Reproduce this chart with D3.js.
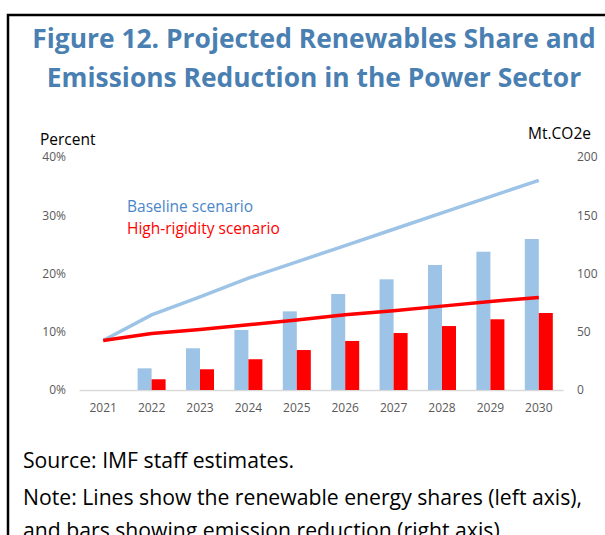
<!DOCTYPE html>
<html>
<head>
<meta charset="utf-8">
<script src="https://cdn.jsdelivr.net/npm/d3@7"></script>
<style>
    body { margin: 0; background: white; font-family: "Open Sans", "Noto Sans", sans-serif; }
    svg { display: block; }
</style>
</head>
<body>
<svg id="chart" width="605" height="535"></svg>
<script>
    // data
    const years = ["2021", "2022", "2023", "2024", "2025", "2026", "2027", "2028", "2029", "2030"];
    const baselineShare = [8.5, 12.9, 16.0, 19.2, 22.0, 24.8, 27.6, 30.4, 33.2, 36.0];
    const rigidShare = [8.5, 9.7, 10.4, 11.2, 12.0, 12.9, 13.6, 14.4, 15.2, 15.9];
    const baselineCut = [null, 18.6, 35.8, 51.5, 67.5, 82.4, 95.0, 107.3, 118.7, 129.6];
    const rigidCut = [null, 9.2, 17.8, 26.4, 34.3, 42.1, 48.9, 54.9, 60.7, 66.1];
    const leftTicks = [0, 10, 20, 30, 40];
    const rightTicks = [0, 50, 100, 150, 200];

    const blue = "#9dc3e6";
    const red = "#ff0000";
    const gray = "#595959";

    const svg = d3.select("#chart");

    // frame around the figure
    svg.append("path")
        .attr("d", "M8,540 L8,15 L610,15")
        .attr("fill", "none")
        .attr("stroke", "black")
        .attr("stroke-width", 2.5);

    // title
    const title = svg.append("text")
        .attr("text-anchor", "middle")
        .attr("fill", "#4a7fb2")
        .attr("font-weight", "bold")
        .attr("font-size", 26.4);
    title.append("tspan").attr("x", 314).attr("y", 48).text("Figure 12. Projected Renewables Share and");
    title.append("tspan").attr("x", 314).attr("y", 87).text("Emissions Reduction in the Power Sector");

    // scales
    const x = d3.scaleBand().domain(years).range([79, 563]);
    const yL = d3.scaleLinear().domain([0, 40]).range([390, 157]);
    const yR = d3.scaleLinear().domain([0, 200]).range([390, 157]);
    const inner = d3.scaleBand().domain(["base", "rigid"]).range([0, 28]);
    const off = (x.bandwidth() - 28) / 2;

    // axes
    svg.append("g")
        .attr("transform", "translate(0,390)")
        .call(d3.axisBottom(x).tickSize(0).tickPadding(13))
        .call(g => g.select(".domain").attr("stroke", "#d9d9d9").attr("stroke-width", 1.3))
        .call(g => g.selectAll("text").attr("fill", gray).attr("font-size", 12).attr("font-family", "Open Sans, sans-serif"));

    svg.append("g")
        .attr("transform", "translate(66,0)")
        .call(d3.axisLeft(yL).tickValues(leftTicks).tickSize(0).tickPadding(0).tickFormat(d => d + "%"))
        .call(g => g.select(".domain").remove())
        .call(g => g.selectAll("text").attr("fill", gray).attr("font-size", 12).attr("font-family", "Open Sans, sans-serif"));

    svg.append("g")
        .attr("transform", "translate(577,0)")
        .call(d3.axisRight(yR).tickValues(rightTicks).tickSize(0).tickPadding(0))
        .call(g => g.select(".domain").remove())
        .call(g => g.selectAll("text").attr("fill", gray).attr("font-size", 12).attr("font-family", "Open Sans, sans-serif"));

    svg.append("text").attr("x", 40).attr("y", 145).attr("font-size", 15.5).attr("fill", "black").text("Percent");
    svg.append("text").attr("x", 591).attr("y", 139).attr("text-anchor", "end").attr("font-size", 15.5).attr("fill", "black").text("Mt.CO2e");

    // bars
    const barRows = years.map((yr, i) => ({ yr, base: baselineCut[i], rigid: rigidCut[i] }))
        .filter(d => d.base !== null);
    const groups = svg.append("g").selectAll("g").data(barRows).enter().append("g")
        .attr("transform", d => "translate(" + (x(d.yr) + off) + ",0)");
    groups.append("rect")
        .attr("x", inner("base")).attr("width", inner.bandwidth())
        .attr("y", d => yR(d.base)).attr("height", d => yR(0) - yR(d.base))
        .attr("fill", blue);
    groups.append("rect")
        .attr("x", inner("rigid")).attr("width", inner.bandwidth())
        .attr("y", d => yR(d.rigid)).attr("height", d => yR(0) - yR(d.rigid))
        .attr("fill", red);

    // lines
    const line = d3.line().x((d, i) => x(years[i]) + x.bandwidth() / 2).y(d => yL(d));
    svg.append("path").datum(baselineShare).attr("d", line)
        .attr("fill", "none").attr("stroke", blue).attr("stroke-width", 3.5);
    svg.append("path").datum(rigidShare).attr("d", line)
        .attr("fill", "none").attr("stroke", red).attr("stroke-width", 3.5);

    // legend
    svg.append("text").attr("x", 127).attr("y", 212).attr("font-size", 15.5).attr("fill", "#4a86c8").text("Baseline scenario");
    svg.append("text").attr("x", 127).attr("y", 234).attr("font-size", 15.5).attr("fill", red).text("High-rigidity scenario");

    // notes
    svg.append("text").attr("x", 23).attr("y", 468).attr("font-size", 21.2).attr("fill", "black").text("Source: IMF staff estimates.");
    svg.append("text").attr("x", 23).attr("y", 505).attr("font-size", 21.2).attr("fill", "black").text("Note: Lines show the renewable energy shares (left axis),");
    svg.append("text").attr("x", 23).attr("y", 538).attr("font-size", 21.2).attr("fill", "black").text("and bars showing emission reduction (right axis).");
</script>
</body>
</html>
